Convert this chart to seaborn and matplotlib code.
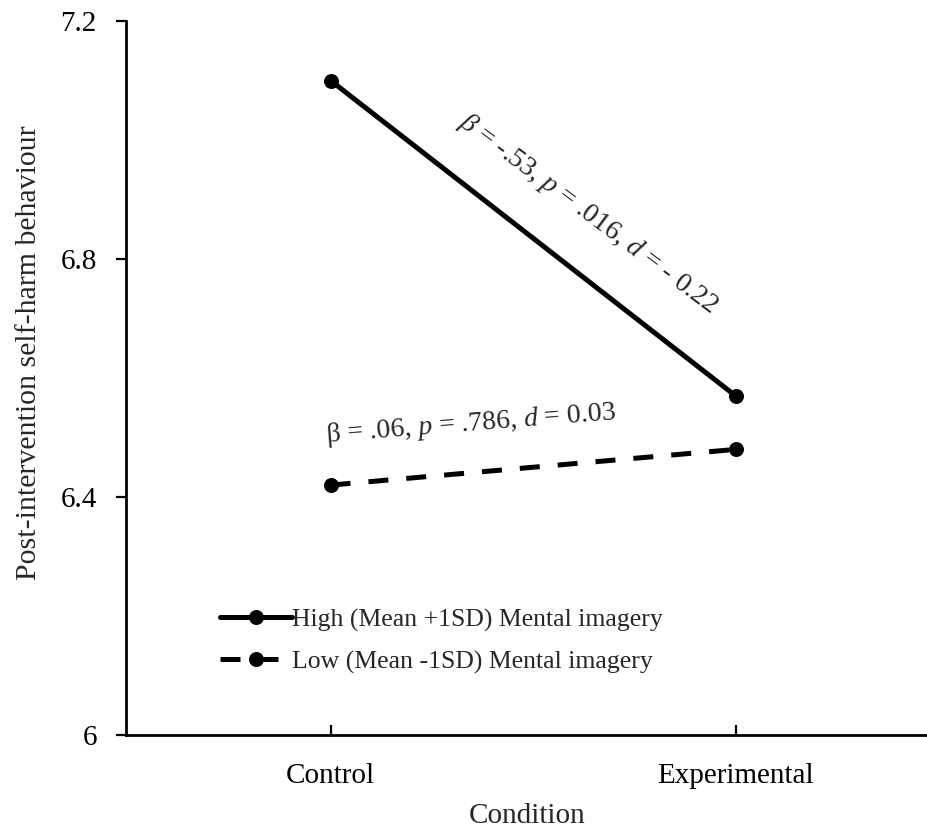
import matplotlib
matplotlib.use("Agg")
import matplotlib.pyplot as plt
import seaborn as sns
import pandas as pd

conditions = ["Control", "Experimental"]
high_label = "High (Mean +1SD) Mental imagery"
low_label = "Low (Mean -1SD) Mental imagery"
high_values = [7.10, 6.57]
low_values = [6.42, 6.48]
y_ticks = [6.0, 6.4, 6.8, 7.2]
y_tick_labels = ["6", "6.4", "6.8", "7.2"]
high_note = r"$\beta$ = -.53, $p$ = .016, $d$ = - 0.22"
low_note = r"β = .06, $p$ = .786, $d$ = 0.03"

df = pd.DataFrame({
    "Condition": conditions * 2,
    "value": high_values + low_values,
    "group": [high_label] * 2 + [low_label] * 2,
})

sns.set_style("ticks")
plt.rcParams["font.family"] = ["Liberation Serif", "DejaVu Serif"]
plt.rcParams["mathtext.fontset"] = "custom"
plt.rcParams["mathtext.rm"] = "Liberation Serif"
plt.rcParams["mathtext.it"] = "Liberation Serif:italic"

fig = plt.figure(figsize=(9.28, 8.30), dpi=100)
ax = fig.add_axes([126 / 928, 1 - 735 / 830, 1 - 126 / 928, (735 - 21) / 830])

sns.lineplot(
    data=df, x="Condition", y="value", hue="group", style="group",
    palette={high_label: "black", low_label: "black"},
    dashes={high_label: "", low_label: (4, 3.6)},
    markers={high_label: "o", low_label: "o"},
    markersize=10, linewidth=3.6, markeredgecolor="black",
    ax=ax,
)

ax.set_xlim(-0.505, 1.475)
ax.set_ylim(6.0, 7.2)
ax.set_yticks(y_ticks)
ax.set_yticklabels(y_tick_labels)
ax.set_xticks([0, 1])
ax.set_xticklabels(conditions)

for s in ["top", "right"]:
    ax.spines[s].set_visible(False)
for s in ["left", "bottom"]:
    ax.spines[s].set_linewidth(2.0)
    ax.spines[s].set_color("black")

ax.tick_params(axis="y", direction="out", length=7, width=1.6, pad=14,
               labelsize=21, colors="black")
ax.tick_params(axis="x", direction="in", length=7, width=1.6, pad=20,
               labelsize=21, colors="black")

ax.set_xlabel("Condition", fontsize=21, labelpad=10)
ax.set_ylabel("Post-intervention self-harm behaviour", fontsize=21.5)
ax.yaxis.set_label_coords(-0.105, 0.536)

ax.text(0.635, 6.876, high_note, rotation=-36.8, rotation_mode="anchor",
        ha="center", va="center", fontsize=20)
ax.text(0.347, 6.522, low_note, rotation=4.5, rotation_mode="anchor",
        ha="center", va="center", fontsize=20)

handles, labels = ax.get_legend_handles_labels()
ax.legend(handles, labels, loc="center left",
          bbox_to_anchor=((220 - 126) / 802, (735 - 641) / 714),
          frameon=False, fontsize=18.5, handlelength=2.8, handletextpad=0.0,
          labelspacing=0.72, borderpad=0, borderaxespad=0)

fig.savefig("out.png", dpi=100)
